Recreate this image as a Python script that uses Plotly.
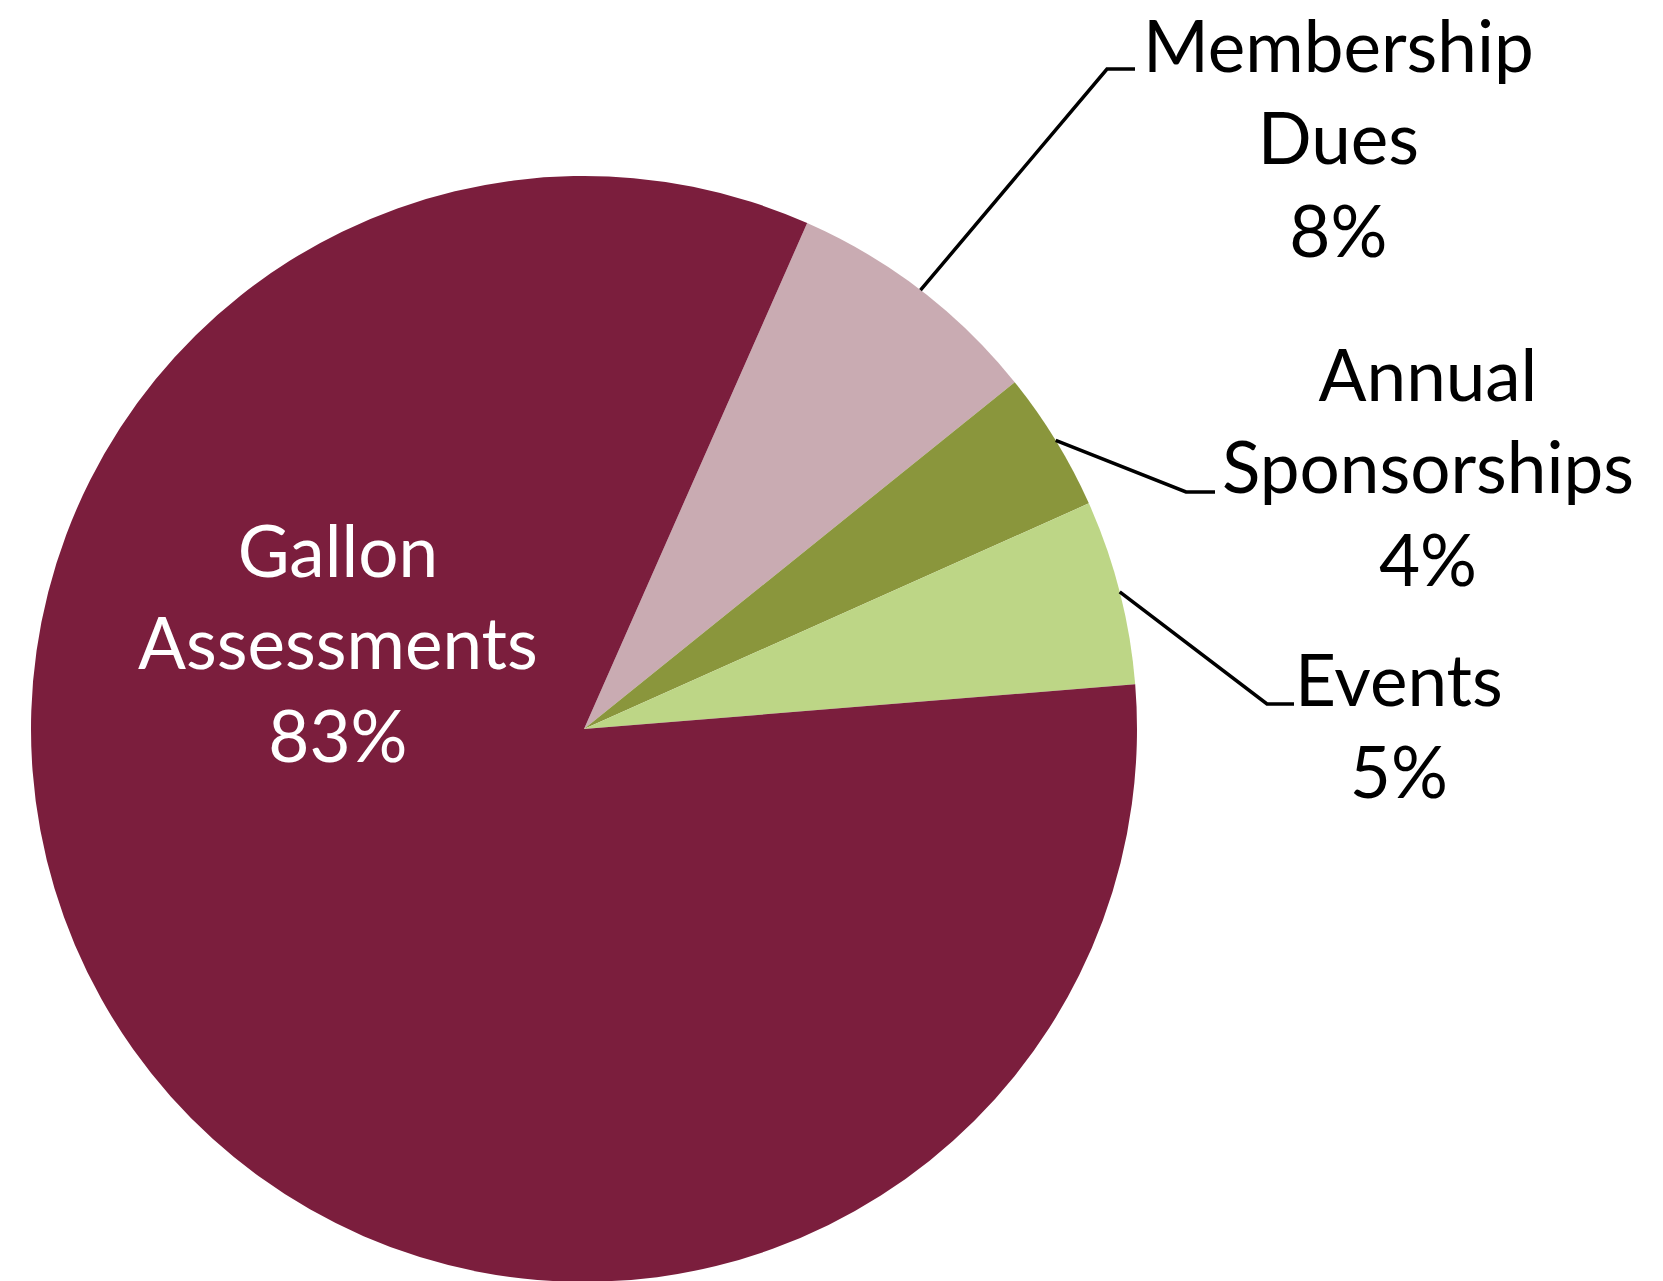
import math
import plotly.graph_objects as go

# ---- data ----
categories = ["Membership Dues", "Annual Sponsorships", "Events", "Gallon Assessments"]
display_names = ["Membership<br>Dues", "Annual<br>Sponsorships", "Events", "Gallon<br>Assessments"]
values = [7.6, 4.1, 5.4, 82.9]
colors = ["#C9ABB2", "#8A963C", "#BDD686", "#7B1E3D"]

W, H = 1663, 1281
start_angle = 23.8  # degrees clockwise from 12 o'clock

# pie geometry (pixels)
cx, cy, R = 576, 721, 553
dom_x = [(cx - R) / W, (cx + R) / W]
dom_y = [1 - (cy + R) / H, 1 - (cy - R) / H]

total = sum(values)
pcts = [round(v / total * 100) for v in values]

fig = go.Figure(go.Pie(
    labels=categories,
    values=values,
    sort=False,
    direction="clockwise",
    rotation=start_angle,
    marker=dict(colors=colors, line=dict(width=0)),
    textinfo="none",
    hoverinfo="label+percent",
    domain=dict(x=dom_x, y=dom_y),
    showlegend=False,
))

FONT = "Lato"
FS = 71

def px2paper(x, y):
    return x / W, 1 - y / H

# label placement (layout) for each category: text center, elbow, end in px
label_layout = {
    "Membership Dues": dict(tx=1330, ty=129, elbow=(1099, 61), end=(1127, 61), color="black"),
    "Annual Sponsorships": dict(tx=1420, ty=458, elbow=(1178, 484), end=(1207, 484), color="black"),
    "Events": dict(tx=1391, ty=717, elbow=(1259, 696), end=(1286, 696), color="black"),
    "Gallon Assessments": dict(tx=330, ty=634, elbow=None, end=None, color="white"),
}

cum = 0.0
for cat, name, v, p in zip(categories, display_names, values, pcts):
    mid = start_angle + (cum + v / 2) / total * 360
    cum += v
    L = label_layout[cat]
    x, y = px2paper(L["tx"], L["ty"])
    fig.add_annotation(
        x=x, y=y, xref="paper", yref="paper",
        text=f"{name}<br>{p}%", showarrow=False,
        font=dict(family=FONT, size=FS, color=L["color"]),
        align="center", xanchor="center", yanchor="middle",
    )
    if L["elbow"] is not None:
        a = math.radians(mid)
        sx = cx + R * math.sin(a)
        sy = cy - R * math.cos(a)
        pts = [(sx, sy), L["elbow"], L["end"]]
        pp = [px2paper(*q) for q in pts]
        path = "M {} {} L {} {} L {} {}".format(*[c for q in pp for c in q])
        fig.add_shape(type="path", path=path, xref="paper", yref="paper",
                      line=dict(color="black", width=3.5))

fig.update_layout(
    width=W, height=H,
    margin=dict(l=0, r=0, t=0, b=0),
    paper_bgcolor="white", plot_bgcolor="white",
)

fig.write_html("out.html")
